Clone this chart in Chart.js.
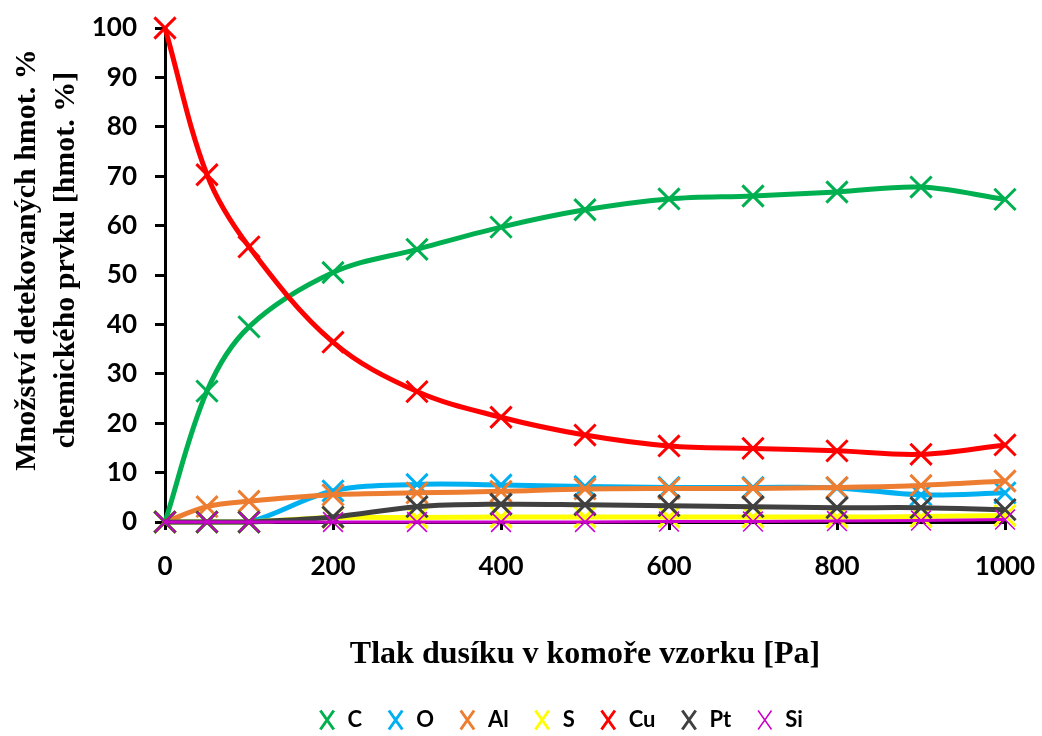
<!DOCTYPE html>
<html lang="cs">
<head>
    <meta charset="UTF-8">
    <title>Tlak dusíku v komoře vzorku</title>
    <script src="https://cdn.jsdelivr.net/npm/chart.js"></script>
    <style>
        html, body { margin: 0; padding: 0; background: #fff; }
        #wrap { width: 1042px; height: 736px; }
    </style>
</head>
<body>
    <div id="wrap"><canvas id="chart"></canvas></div>

    <script>
        // tlak [Pa]
        const tlak = [0, 50, 100, 200, 300, 400, 500, 600, 700, 800, 900, 1000];

        // hmot. % jednotlivých prvků
        const C  = [0, 26.5, 39.5, 50.5, 55.2, 59.7, 63.2, 65.4, 66.0, 66.8, 67.8, 65.3];
        const O  = [0, 0, 0, 6.3, 7.6, 7.5, 7.2, 7.0, 7.0, 6.9, 5.5, 5.9];
        const Al = [0, 3.1, 4.2, 5.5, 5.9, 6.2, 6.7, 6.8, 6.8, 7.0, 7.4, 8.3];
        const S  = [0, 0, 0, 0.9, 0.9, 1.0, 1.0, 1.0, 1.0, 1.0, 1.1, 1.3];
        const Cu = [100, 70.3, 55.7, 36.4, 26.4, 21.2, 17.6, 15.4, 14.9, 14.4, 13.7, 15.6];
        const Pt = [0, 0, 0, 1.0, 3.1, 3.6, 3.5, 3.3, 3.1, 2.9, 2.9, 2.5];
        const Si = [0, 0, 0, 0, 0, 0, 0, 0.1, 0.1, 0.2, 0.3, 0.5];

        const nazvy = ['C', 'O', 'Al', 'S', 'Cu', 'Pt', 'Si'];
        const hodnoty = [C, O, Al, S, Cu, Pt, Si];
        const barvy = ['#00b050', '#00b0f0', '#ed7d31', '#ffff00', '#ff0000', '#404040', '#cc00cc'];

        const datasets = nazvy.map((n, i) => ({
            label: n,
            data: tlak.map((x, j) => ({ x: x, y: hodnoty[i][j] })),
            borderColor: barvy[i],
            backgroundColor: barvy[i],
            borderWidth: n === 'Si' ? 3 : 5,
            tension: 0.35,
            pointStyle: 'crossRot',
            pointRadius: n === 'Si' ? 14 : 15,
            pointBorderWidth: n === 'Si' ? 1.5 : 3,
            order: 10 - i,   // jako v Excelu: pozdější řada navrchu
            clip: false
        }));

        // posun legendy pod graf (v originálu není přesně uprostřed)
        const posunLegendy = {
            id: 'posunLegendy',
            afterLayout(chart) {
                const lg = chart.legend;
                lg.left += 54; lg.right += 54;
                lg.top += 5; lg.bottom += 5;
            }
        };

        Chart.defaults.color = '#000';
        Chart.defaults.animation = false;

        new Chart(document.getElementById('chart'), {
            type: 'line',
            data: { datasets: datasets },
            plugins: [posunLegendy],
            options: {
                responsive: true,
                maintainAspectRatio: false,
                layout: { autoPadding: false, padding: { left: 7.5, right: 37, top: 28, bottom: 0 } },
                plugins: {
                    tooltip: { enabled: false },
                    legend: {
                        position: 'bottom',
                        labels: {
                            usePointStyle: true,
                            pointStyleWidth: 19,
                            boxHeight: 19,
                            padding: 24,
                            font: { family: 'Lato', size: 22, weight: 'bold' },
                            sort: (a, b) => a.datasetIndex - b.datasetIndex
                        }
                    }
                },
                scales: {
                    x: {
                        type: 'linear',
                        min: 0,
                        max: 1000,
                        afterFit(s) { s.height = 158; s.paddingLeft = 0; s.paddingRight = 0; },
                        ticks: {
                            stepSize: 200, padding: 21,
                            font: { family: 'Lato', size: 26, weight: 'bold' },
                            callback: v => String(v)
                        },
                        grid: { drawOnChartArea: false, drawTicks: true, tickLength: 8, color: '#000', lineWidth: 3 },
                        border: { color: '#000', width: 3 },
                        title: {
                            display: true,
                            text: 'Tlak dusíku v komoře vzorku [Pa]',
                            font: { family: 'Liberation Serif', size: 32, weight: 'bold' },
                            padding: { top: 34, bottom: 6 }
                        }
                    },
                    y: {
                        min: 0,
                        max: 100,
                        afterFit(s) { s.width = 157.5; s.paddingTop = 0; s.paddingBottom = 0; },
                        ticks: { stepSize: 10, padding: 18, font: { family: 'Lato', size: 26, weight: 'bold' } },
                        grid: { drawOnChartArea: false, drawTicks: true, tickLength: 10, color: '#000', lineWidth: 3 },
                        border: { color: '#000', width: 3 },
                        title: {
                            display: true,
                            text: ['    Množství detekovaných hmot. %', '    chemického prvku [hmot. %]'],
                            font: { family: 'Liberation Serif', size: 30, weight: 'bold', lineHeight: 1.3 },
                            padding: { top: 0, bottom: 0 }
                        }
                    }
                }
            }
        });
    </script>
</body>
</html>
